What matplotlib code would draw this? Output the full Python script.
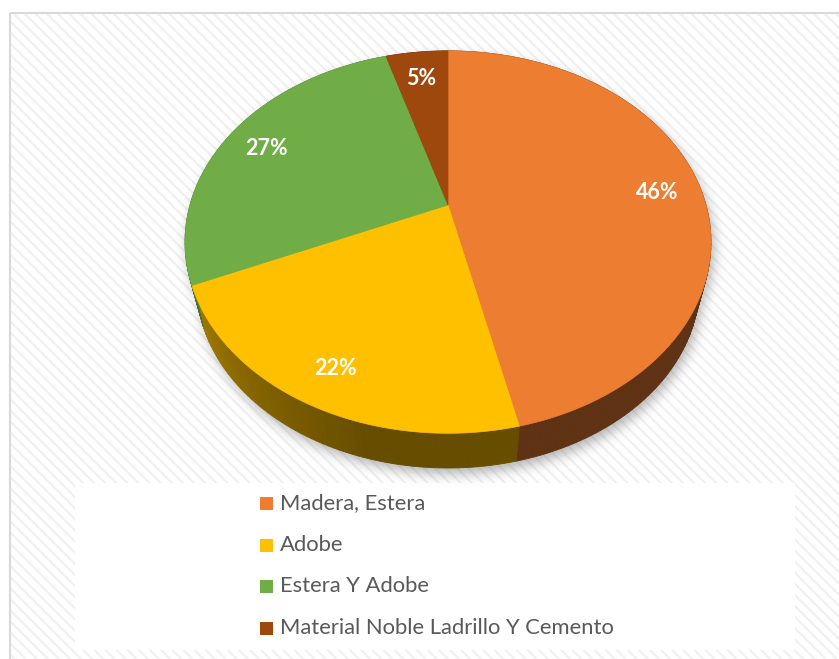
import numpy as np
import matplotlib.pyplot as plt
from matplotlib.colors import to_rgb
from matplotlib.patches import Polygon, Rectangle
from matplotlib.path import Path

categories = ["Madera, Estera", "Adobe", "Estera Y Adobe",
              "Material Noble Ladrillo Y Cemento"]
values = [46.4, 22.0, 27.0, 4.6]
colors = ["#ED7D31", "#FFC000", "#70AD47", "#9E480E"]

plt.rcParams['hatch.linewidth'] = 1.5
plt.rcParams['font.family'] = ['Lato', 'DejaVu Sans']

W, H = 839, 659
fig = plt.figure(figsize=(W / 100, H / 100), dpi=100)
ax = fig.add_axes([0, 0, 1, 1])

# striped chart area + border
ax.add_patch(Rectangle((10, 13), W, H, facecolor='white', edgecolor='#F0F0F0',
                       hatch='\\\\\\', lw=0, zorder=0))
ax.add_patch(Rectangle((10, 13), W, H, facecolor='none', edgecolor='#D9D9D9',
                       lw=1.5, zorder=1))
# legend box
ax.add_patch(Rectangle((75, 483), 720, 167, facecolor='white', edgecolor='none', zorder=1.5))

# perspective pie geometry (top face, bottom face is a shrunk copy lower down)
cx, cy = 448, 205
a, b, k = 258, 184, 0.194
m, drop = 0.955, 45


def proj(r, t, bottom=False):
    X = r * np.sin(t)
    Y = r * np.cos(t)
    s = 1 + k * Y
    u = cx + a * X / s
    v = cy - b * Y / s
    if bottom:
        u = cx + m * (u - cx)
        v = cy + drop + m * (v - cy)
    return u, v


total = sum(values)
cum = np.concatenate([[0], np.cumsum(values)]) / total * 2 * np.pi

# soft shadow under the pie
tt = np.linspace(0, 2 * np.pi, 400)
top_rim = np.column_stack(proj(1, tt))
bot_rim = np.column_stack(proj(1, tt, True))
gx, gy = np.meshgrid(np.arange(W) + 0.5, np.arange(H) + 0.5)
pts = np.column_stack([gx.ravel() - 3, gy.ravel() - 6])
mask = Path(top_rim).contains_points(pts) | Path(bot_rim).contains_points(pts)
mask = mask.reshape(H, W).astype(float)
sig = 6
kx = np.arange(-3 * sig, 3 * sig + 1)
kern = np.exp(-kx ** 2 / (2 * sig ** 2))
kern /= kern.sum()
blur = np.apply_along_axis(lambda r: np.convolve(r, kern, mode='same'), 1, mask)
blur = np.apply_along_axis(lambda r: np.convolve(r, kern, mode='same'), 0, blur)
shadow = np.zeros((H, W, 4))
shadow[..., :3] = 0.35
shadow[..., 3] = blur * 0.45
ax.imshow(shadow, extent=(0, W, H, 0), zorder=2, interpolation='bilinear')


def shade(t):
    deg = np.degrees(t) % 360
    return 0.40 + 0.30 * np.clip((deg - 195) / 65, 0, 1)


# side walls
for i, c in enumerate(colors):
    base = np.array(to_rgb(c))
    ts = np.linspace(cum[i], cum[i + 1], max(int(values[i] * 3), 4))
    for t1, t2 in zip(ts[:-1], ts[1:]):
        col = np.clip(base * shade((t1 + t2) / 2), 0, 1)
        quad = [proj(1, t1), proj(1, t2), proj(1, t2, True), proj(1, t1, True)]
        ax.add_patch(Polygon(quad, closed=True, fc=col, ec=col, lw=0.6, zorder=3))

# top faces
for i, c in enumerate(colors):
    ts = np.linspace(cum[i], cum[i + 1], 120)
    xs, ys = proj(1, ts)
    poly = [(cx, cy)] + list(zip(xs, ys))
    ax.add_patch(Polygon(poly, closed=True, fc=c, ec=c, lw=0.5, zorder=4))

# percentage labels
for i, v in enumerate(values):
    tm = (cum[i] + cum[i + 1]) / 2
    lx, ly = proj(0.83, tm)
    ax.text(lx, ly + 4, f"{v / total * 100:.0f}%", color='white', fontsize=15.5,
            fontweight='bold', ha='center', va='center', zorder=5)

# legend
rows = [503, 545, 586, 628]
for c, lab, ry in zip(colors, categories, rows):
    ax.add_patch(Rectangle((260, ry - 6.5), 13, 13, fc=c, ec='none', zorder=5))
    ax.text(280, ry, lab, color='#595959', fontsize=15.8, ha='left', va='center',
            zorder=5)

ax.set_xlim(0, W)
ax.set_ylim(H, 0)
ax.axis('off')
fig.savefig('out.png', dpi=100)
